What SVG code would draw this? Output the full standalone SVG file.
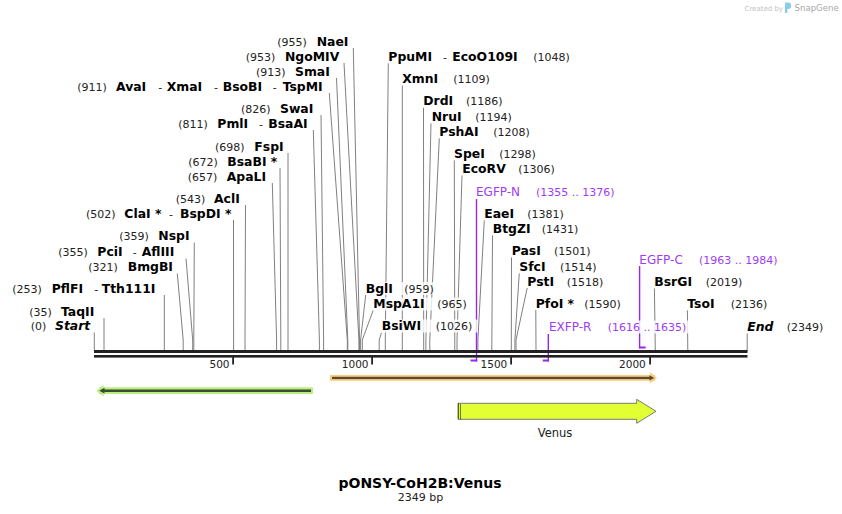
<svg xmlns="http://www.w3.org/2000/svg" width="842" height="514" viewBox="0 0 842 514">
<style>
text{font-family:"DejaVu Sans",Verdana,"Liberation Sans",sans-serif}
.b{font-weight:bold;font-size:12.4px;fill:#000}
.n{font-size:11px;fill:#222}
.d{font-size:11px;fill:#222}
.bi{font-weight:bold;font-style:italic;font-size:12.4px;fill:#000}
.pn{font-size:12px;fill:#a03cf0}
.pp{font-size:11px;fill:#a03cf0}
.bg{fill:#fff;fill-opacity:0.8}
.cl{stroke:#808080;stroke-width:1;fill:none}
.pl{stroke:#9426f0;stroke-width:1.4;fill:none}
.pb{fill:#9426f0}
.tk{font-size:10.5px;fill:#222}
</style>
<rect width="842" height="514" fill="#fff"/>

<!-- watermark -->
<g id="watermark">
<text x="744.5" y="10.5" style="font-size:7px;fill:#c2c2c2">Created by</text>
<path d="M785,2.5 h3 a3.2,3.2 0 0 1 0,6.4 h-0.6 v4.2 h-2.4 z" fill="#86cdee"/>
<text x="794.5" y="11" style="font-size:8.6px;fill:#a8a8a8">SnapGene</text>
</g>

<!-- connectors -->
<g id="connectors">
<polyline class="cl" points="353.3,48 359.5,340 359.5,351"/>
<polyline class="cl" points="344,63 358.9,340 358.9,351"/>
<polyline class="cl" points="336.5,78 347.8,340 347.8,351"/>
<polyline class="cl" points="329.3,93 347.3,340 347.3,351"/>
<polyline class="cl" points="321,115 323.6,340 323.6,351"/>
<polyline class="cl" points="313.3,130 319.4,340 319.4,351"/>
<polyline class="cl" points="288,153 288,351"/>
<polyline class="cl" points="280,168 280.8,340 280.8,351"/>
<polyline class="cl" points="272.3,183 276.6,340 276.6,351"/>
<polyline class="cl" points="245.5,205 245,340 245,351"/>
<polyline class="cl" points="233.5,220 233.6,351"/>
<polyline class="cl" points="194.3,242.5 193.8,340 193.8,351"/>
<polyline class="cl" points="186,258.5 192.7,340 192.7,351"/>
<polyline class="cl" points="177.3,273.5 183.2,340 183.2,351"/>
<polyline class="cl" points="164.3,295 164.3,351"/>
<polyline class="cl" points="104,318 104,351"/>
<polyline class="cl" points="94.3,332.5 94.3,351"/>
<polyline class="cl" points="388.3,63 385.3,340 385.3,351"/>
<polyline class="cl" points="402.3,85 402.3,351"/>
<polyline class="cl" points="423.5,107.5 423.7,351"/>
<polyline class="cl" points="431,123 425.9,340 425.9,351"/>
<polyline class="cl" points="439.3,138 429.8,340 429.8,351"/>
<polyline class="cl" points="454.3,160 454.8,351"/>
<polyline class="cl" points="462,175 457,340 457,351"/>
<polyline class="cl" points="484.3,220 477.9,340 477.9,351"/>
<polyline class="cl" points="492.5,235 491.8,351"/>
<polyline class="cl" points="511.5,257 511.3,351"/>
<polyline class="cl" points="519.3,273 514.9,340 514.9,351"/>
<polyline class="cl" points="527.3,287.5 516,340 516,351"/>
<polyline class="cl" points="535.8,310 536,351"/>
<polyline class="cl" points="654.4,288 655.3,351"/>
<polyline class="cl" points="687.4,310 687.8,351"/>
<polyline class="cl" points="747.2,333 747.2,351"/>
<polyline class="cl" points="365.7,295 360.6,340 360.6,351"/>
<polyline class="cl" points="373.3,310 362.3,340 362.3,351"/>
<polyline class="cl" points="381.5,332.5 379.2,340 379.2,351"/>
<!-- primers -->
<line class="pl" x1="476.5" y1="199" x2="476.5" y2="361.5"/>
<rect class="pb" x="470.5" y="359.5" width="6.7" height="2"/>
<line class="pl" x1="548.3" y1="334" x2="548.3" y2="361.5"/>
<rect class="pb" x="542.8" y="359.5" width="6.2" height="2"/>
<line class="pl" x1="639.6" y1="266" x2="639.6" y2="348.3"/>
<rect class="pb" x="638.9" y="346.5" width="6.8" height="2"/>
</g>

<!-- backbone -->
<g id="backbone">
<rect x="94" y="350" width="653.5" height="3" fill="#222"/>
<rect x="94" y="355" width="653.5" height="2.6" fill="#222"/>
<rect x="232.2" y="357" width="1.8" height="7.5" fill="#222"/>
<rect x="371.2" y="357" width="1.8" height="7.5" fill="#222"/>
<rect x="510.2" y="357" width="1.8" height="7.5" fill="#222"/>
<rect x="649.2" y="357" width="1.8" height="7.5" fill="#222"/>
<text class="tk" x="229.5" y="367.5" text-anchor="end">500</text>
<text class="tk" x="368.5" y="367.5" text-anchor="end">1000</text>
<text class="tk" x="507.3" y="367.5" text-anchor="end">1500</text>
<text class="tk" x="645.8" y="367.5" text-anchor="end">2000</text>
</g>

<!-- left labels -->
<g id="NaeI"><rect class="bg" x="275" y="35.5" width="77" height="13"/><text y="46"><tspan class="n" x="277.3">(955)</tspan><tspan class="b" x="316.7">NaeI</tspan></text></g>
<g id="NgoMIV"><rect class="bg" x="243" y="50.5" width="98" height="13"/><text y="61"><tspan class="n" x="245.7">(953)</tspan><tspan class="b" x="285">NgoMIV</tspan></text></g>
<g id="SmaI"><rect class="bg" x="254" y="65.5" width="80" height="13"/><text y="76"><tspan class="n" x="256">(913)</tspan><tspan class="b" x="295">SmaI</tspan></text></g>
<g id="AvaI"><rect class="bg" x="75" y="80.5" width="252" height="13"/><text y="91"><tspan class="n" x="77.3">(911)</tspan><tspan class="b" x="116">AvaI</tspan><tspan class="d" x="158.3">-</tspan><tspan class="b" x="166.7">XmaI</tspan><tspan class="d" x="214">-</tspan><tspan class="b" x="222.7">BsoBI</tspan><tspan class="d" x="272.7">-</tspan><tspan class="b" x="282.7">TspMI</tspan></text></g>
<g id="SwaI"><rect class="bg" x="239" y="102.5" width="79" height="13"/><text y="113"><tspan class="n" x="241">(826)</tspan><tspan class="b" x="280">SwaI</tspan></text></g>
<g id="PmlI"><rect class="bg" x="176" y="117.5" width="134" height="13"/><text y="128"><tspan class="n" x="178.3">(811)</tspan><tspan class="b" x="217.3">PmlI</tspan><tspan class="d" x="259">-</tspan><tspan class="b" x="268.3">BsaAI</tspan></text></g>
<g id="FspI"><rect class="bg" x="213" y="140.5" width="73" height="13"/><text y="151"><tspan class="n" x="215">(698)</tspan><tspan class="b" x="254.3">FspI</tspan></text></g>
<g id="BsaBI"><rect class="bg" x="186" y="155.5" width="92" height="13"/><text y="166"><tspan class="n" x="188.3">(672)</tspan><tspan class="b" x="227.3">BsaBI *</tspan></text></g>
<g id="ApaLI"><rect class="bg" x="185" y="170.5" width="84" height="13"/><text y="181"><tspan class="n" x="187.7">(657)</tspan><tspan class="b" x="226.7">ApaLI</tspan></text></g>
<g id="AclI"><rect class="bg" x="173" y="192.5" width="70" height="13"/><text y="203"><tspan class="n" x="175.7">(543)</tspan><tspan class="b" x="214">AclI</tspan></text></g>
<g id="ClaI"><rect class="bg" x="84" y="207.5" width="147" height="13"/><text y="218"><tspan class="n" x="86">(502)</tspan><tspan class="b" x="124.3">ClaI *</tspan><tspan class="d" x="169">-</tspan><tspan class="b" x="180">BspDI *</tspan></text></g>
<g id="NspI"><rect class="bg" x="117" y="229.5" width="75" height="13"/><text y="240"><tspan class="n" x="119.3">(359)</tspan><tspan class="b" x="158.3">NspI</tspan></text></g>
<g id="PciI"><rect class="bg" x="56" y="245.5" width="126" height="13"/><text y="256"><tspan class="n" x="58.3">(355)</tspan><tspan class="b" x="97.3">PciI</tspan><tspan class="d" x="132.7">-</tspan><tspan class="b" x="141.7">AflIII</tspan></text></g>
<g id="BmgBI"><rect class="bg" x="86" y="260.5" width="89" height="13"/><text y="271"><tspan class="n" x="88.3">(321)</tspan><tspan class="b" x="127.7">BmgBI</tspan></text></g>
<g id="PflFI"><rect class="bg" x="10" y="282" width="150" height="13"/><text y="292.5"><tspan class="n" x="12.3">(253)</tspan><tspan class="b" x="51.7">PflFI</tspan><tspan class="d" x="94.3">-</tspan><tspan class="b" x="101.7">Tth111I</tspan></text></g>
<g id="TaqII"><rect class="bg" x="27" y="305.5" width="75" height="13"/><text y="316"><tspan class="n" x="29.3">(35)</tspan><tspan class="b" x="61">TaqII</tspan></text></g>
<g id="Start"><rect class="bg" x="28" y="319.5" width="64" height="13"/><text y="330"><tspan class="n" x="30.7">(0)</tspan><tspan class="bi" x="55">Start</tspan></text></g>

<!-- right labels -->
<g id="PpuMI"><rect class="bg" x="386" y="50.5" width="186" height="13"/><text y="61"><tspan class="b" x="388.3">PpuMI</tspan><tspan class="d" x="443">-</tspan><tspan class="b" x="452.3">EcoO109I</tspan><tspan class="n" x="533.3">(1048)</tspan></text></g>
<g id="XmnI"><rect class="bg" x="400" y="72.5" width="93" height="13"/><text y="83"><tspan class="b" x="402.3">XmnI</tspan><tspan class="n" x="453.3">(1109)</tspan></text></g>
<g id="DrdI"><rect class="bg" x="421" y="94.5" width="86" height="13"/><text y="105"><tspan class="b" x="423.3">DrdI</tspan><tspan class="n" x="466">(1186)</tspan></text></g>
<g id="NruI"><rect class="bg" x="429" y="110.5" width="86" height="13"/><text y="121"><tspan class="b" x="431.7">NruI</tspan><tspan class="n" x="475.3">(1194)</tspan></text></g>
<g id="PshAI"><rect class="bg" x="437" y="125.5" width="96" height="13"/><text y="136"><tspan class="b" x="439.3">PshAI</tspan><tspan class="n" x="493.3">(1208)</tspan></text></g>
<g id="SpeI"><rect class="bg" x="452" y="147.5" width="87" height="13"/><text y="158"><tspan class="b" x="454">SpeI</tspan><tspan class="n" x="499.3">(1298)</tspan></text></g>
<g id="EcoRV"><rect class="bg" x="460" y="162.5" width="98" height="13"/><text y="173"><tspan class="b" x="462.3">EcoRV</tspan><tspan class="n" x="518.3">(1306)</tspan></text></g>
<g id="EGFP-N"><rect class="bg" x="474" y="185.5" width="146" height="13"/><text y="196"><tspan class="pn" x="476">EGFP-N</tspan><tspan class="pp" x="536">(1355 .. 1376)</tspan></text></g>
<g id="EaeI"><rect class="bg" x="482" y="207.5" width="85" height="13"/><text y="218"><tspan class="b" x="484.3">EaeI</tspan><tspan class="n" x="527.3">(1381)</tspan></text></g>
<g id="BtgZI"><rect class="bg" x="490" y="222.5" width="91" height="13"/><text y="233"><tspan class="b" x="492.7">BtgZI</tspan><tspan class="n" x="541.7">(1431)</tspan></text></g>
<g id="PasI"><rect class="bg" x="509" y="244.5" width="84" height="13"/><text y="255"><tspan class="b" x="511.7">PasI</tspan><tspan class="n" x="554">(1501)</tspan></text></g>
<g id="SfcI"><rect class="bg" x="517" y="260.5" width="82" height="13"/><text y="271"><tspan class="b" x="519.3">SfcI</tspan><tspan class="n" x="560">(1514)</tspan></text></g>
<g id="PstI"><rect class="bg" x="525" y="275" width="81" height="13"/><text y="285.5"><tspan class="b" x="527.3">PstI</tspan><tspan class="n" x="566.7">(1518)</tspan></text></g>
<g id="PfoI"><rect class="bg" x="533" y="297" width="90" height="13"/><text y="307.5"><tspan class="b" x="535.7">PfoI *</tspan><tspan class="n" x="584.3">(1590)</tspan></text></g>
<g id="EGFP-C"><rect class="bg" x="637" y="253" width="145" height="13"/><text y="263.5"><tspan class="pn" x="639.3">EGFP-C</tspan><tspan class="pp" x="699">(1963 .. 1984)</tspan></text></g>
<g id="BsrGI"><rect class="bg" x="652" y="275.5" width="93" height="13"/><text y="286"><tspan class="b" x="654.3">BsrGI</tspan><tspan class="n" x="705.7">(2019)</tspan></text></g>
<g id="TsoI"><rect class="bg" x="685" y="297.5" width="85" height="13"/><text y="308"><tspan class="b" x="687.3">TsoI</tspan><tspan class="n" x="730.7">(2136)</tspan></text></g>
<g id="End"><rect class="bg" x="745" y="320.5" width="81" height="13"/><text y="331"><tspan class="bi" x="747.3">End</tspan><tspan class="n" x="786.7">(2349)</tspan></text></g>
<g id="BglI"><rect class="bg" x="363" y="282" width="74" height="13"/><text y="292.5"><tspan class="b" x="365.7">BglI</tspan><tspan class="n" x="404.3">(959)</tspan></text></g>
<g id="MspA1I"><rect class="bg" x="371" y="297.5" width="99" height="13"/><text y="308"><tspan class="b" x="373.3">MspA1I</tspan><tspan class="n" x="437.3">(965)</tspan></text></g>
<g id="BsiWI"><rect class="bg" x="379" y="319.5" width="99" height="13"/><text y="330"><tspan class="b" x="381.7">BsiWI</tspan><tspan class="n" x="435.7">(1026)</tspan></text></g>
<g id="EXFP-R"><rect class="bg" x="547" y="320.5" width="144" height="13"/><text y="331"><tspan class="pn" x="549">EXFP-R</tspan><tspan class="pp" x="607.7">(1616 .. 1635)</tspan></text></g>

<!-- features -->
<g id="feature-green">
<rect x="99" y="387.3" width="214" height="6.7" fill="#b8f07e"/>
<polygon points="96.5,390.7 103.5,384.8 103.5,396.6" fill="#b8f07e"/>
<rect x="101.5" y="389.5" width="209.5" height="2.5" fill="#3d4a34"/>
<polygon points="99.3,390.7 104.5,387.8 104.5,393.6" fill="#3d4a34"/>
</g>
<g id="feature-orange">
<rect x="330" y="375" width="325" height="5.8" fill="#f8cd80"/>
<polygon points="657,377.9 650,372.2 650,383.6" fill="#f8cd80"/>
<rect x="332" y="376.8" width="319" height="2.3" fill="#5c4a2e"/>
<polygon points="654.3,377.9 649.5,375.2 649.5,380.6" fill="#5c4a2e"/>
</g>
<g id="Venus">
<path d="M458,403.3 H636.7 V399.3 L656,411.3 L636.7,423.3 V419.3 H458 Z" fill="#e1ff33" stroke="#7a7a7a" stroke-width="1"/>
<line x1="458.5" y1="403.5" x2="458.5" y2="419.3" stroke="#000" stroke-width="1" stroke-dasharray="1 1"/>
<line x1="460.5" y1="404.5" x2="460.5" y2="419.3" stroke="#000" stroke-width="1" stroke-dasharray="1 1"/>
<text x="555" y="437" text-anchor="middle" style="font-size:11.5px;fill:#222">Venus</text>
</g>

<!-- title -->
<g id="title">
<text x="420" y="487.5" text-anchor="middle" style="font-size:14px;font-weight:bold;fill:#000">pONSY-CoH2B:Venus</text>
<text x="420.5" y="500.8" text-anchor="middle" style="font-size:11px;fill:#222">2349 bp</text>
</g>
</svg>
